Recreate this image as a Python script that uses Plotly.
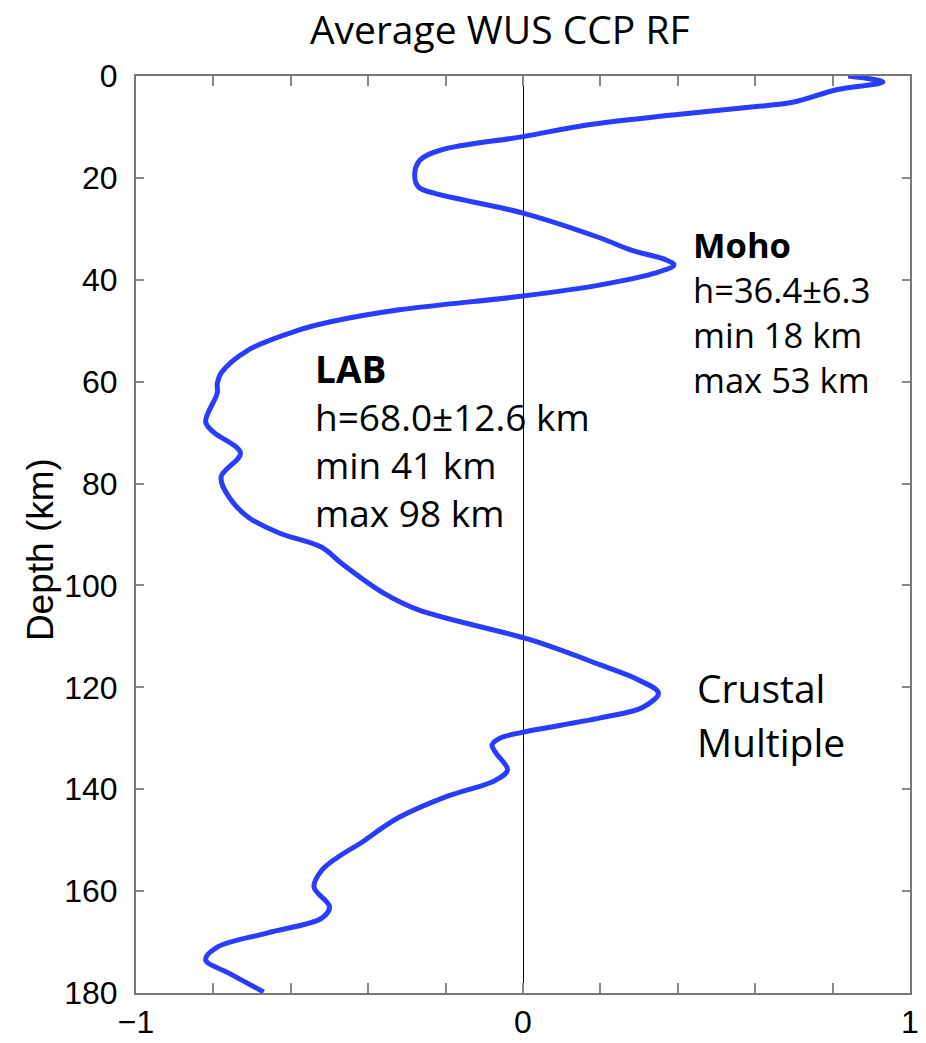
import plotly.graph_objects as go

depth_km = [0, 1.2, 2.7, 5.1, 6.1, 7.7, 9.6, 11.9, 14.5, 16.5, 19.4, 21.8, 23, 26.9, 31.8,
            34.2, 36.1, 37.1, 38.7, 41, 43.2, 45.9, 48.3, 49.9, 53.8, 58.3, 60.3, 62.2,
            67.9, 69.9, 74, 78.7, 82.6, 86.6, 89.7, 92.5, 95.6, 101.5, 104.8, 110.7,
            115.6, 118.6, 121.1, 123.9, 126, 128.8, 130, 131.3, 132.9, 136.2, 138.2,
            141.5, 145.5, 147.4, 150.6, 152.9, 155.9, 159.2, 163.1, 165.3, 168.2, 171,
            173.5, 176.1, 179.8]
amplitude = [0.84, 0.93, 0.81, 0.70, 0.59, 0.38, 0.165, 0.0, -0.21, -0.266, -0.28, -0.27,
             -0.23, 0.0, 0.20, 0.28, 0.37, 0.39, 0.34, 0.20, 0.0, -0.32, -0.50, -0.58,
             -0.71, -0.78, -0.79, -0.79, -0.82, -0.80, -0.73, -0.78, -0.76, -0.71, -0.63,
             -0.52, -0.47, -0.36, -0.27, 0.02, 0.20, 0.30, 0.35, 0.31, 0.20, 0.0, -0.06,
             -0.08, -0.07, -0.04, -0.07, -0.20, -0.32, -0.36, -0.42, -0.47, -0.52, -0.54,
             -0.50, -0.52, -0.66, -0.79, -0.82, -0.76, -0.67]

x_tick_vals = [-1, 0, 1]
x_tick_text = ["\u22121", "0", "1"]
y_tick_vals = [0, 20, 40, 60, 80, 100, 120, 140, 160, 180]

title_text = "Average WUS CCP RF"
y_title = "Depth (km)"

moho_lines = ["<b>Moho</b>", "h=36.4\u00b16.3", "min 18 km", "max 53 km"]
lab_lines = ["<b>LAB</b>", "h=68.0\u00b112.6 km", "min 41 km", "max 98 km"]
crust_lines = ["Crustal", "Multiple"]
crust_depths = [120.1, 130.7]

TICKFONT = dict(family="Liberation Sans, Arial, sans-serif", size=32, color="black")
TEXTFONT = "Open Sans, DejaVu Sans, sans-serif"

fig = go.Figure()
fig.add_trace(go.Scatter(
    x=amplitude, y=depth_km, mode="lines",
    line=dict(color="#2a3cff", width=5, shape="spline", smoothing=1.0),
    showlegend=False, hoverinfo="skip",
))

annotations = [
    dict(x=0.434, y=46.3, xref="x", yref="y", text="<br>".join(moho_lines),
         showarrow=False, xanchor="left", yanchor="middle", align="left",
         font=dict(family=TEXTFONT, size=34.5, color="black")),
    dict(x=-0.543, y=71.6, xref="x", yref="y", text="<br>".join(lab_lines),
         showarrow=False, xanchor="left", yanchor="middle", align="left",
         font=dict(family=TEXTFONT, size=37, color="black")),
]
for txt, d in zip(crust_lines, crust_depths):
    annotations.append(dict(x=0.445, y=d, xref="x", yref="y", text=txt, showarrow=False,
                            xanchor="left", yanchor="middle",
                            font=dict(family=TEXTFONT, size=39, color="black")))
annotations.append(dict(x=-0.124, y=0.483, xref="paper", yref="paper", text=y_title,
                        showarrow=False, textangle=-90, xanchor="center", yanchor="middle",
                        font=dict(family=TICKFONT["family"], size=37, color="black")))

fig.update_layout(
    width=926, height=1043,
    margin=dict(l=136, r=16, t=76, b=50),
    paper_bgcolor="white", plot_bgcolor="white",
    title=dict(text=title_text, x=0.47, xanchor="center", xref="paper",
               y=1 - 30 / 1043, yanchor="middle",
               font=dict(family=TEXTFONT, size=39, color="black")),
    annotations=annotations,
    xaxis=dict(range=[-1, 1], tickvals=x_tick_vals, ticktext=x_tick_text,
               ticks="inside", ticklen=10, tickwidth=1.5, tickcolor="#888",
               showline=True, linecolor="#777", linewidth=2, mirror="ticks",
               showgrid=False, zeroline=True, zerolinecolor="black", zerolinewidth=1.2,
               minor=dict(dtick=0.2, tick0=0, ticks="inside", ticklen=10, tickwidth=1.5,
                          tickcolor="#888", showgrid=False),
               tickfont=TICKFONT, fixedrange=True, automargin=False),
    yaxis=dict(range=[180, 0], tickvals=y_tick_vals,
               ticks="inside", ticklen=8, tickwidth=1.5, tickcolor="#888",
               showline=True, linecolor="#777", linewidth=2, mirror="ticks",
               showgrid=False, zeroline=False, ticklabelstandoff=10,
               tickfont=TICKFONT, fixedrange=True, automargin=False),
)

fig.write_html("out.html")
